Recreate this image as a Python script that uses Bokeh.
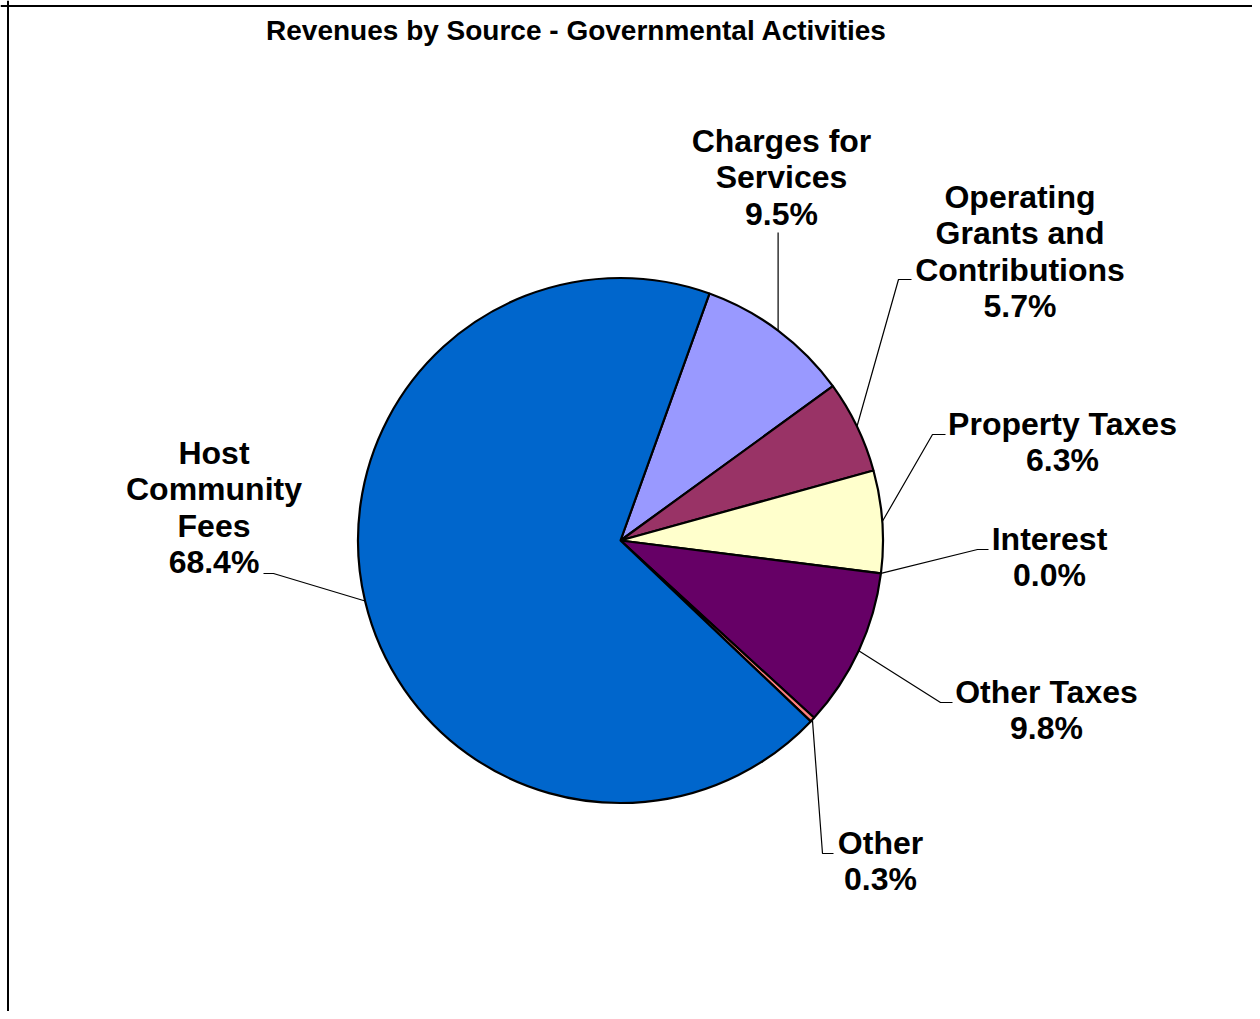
import math
from bokeh.plotting import figure
from bokeh.models import Range1d, Span, ColumnDataSource
from bokeh.core.properties import value
from bokeh.embed import file_html
from bokeh.resources import INLINE

# ---- data ----
categories = ["Charges for\nServices", "Operating\nGrants and\nContributions", "Property Taxes",
              "Interest", "Other Taxes", "Other", "Host\nCommunity\nFees"]
percents = [9.5, 5.7, 6.3, 0.0, 9.8, 0.3, 68.4]
colors = ["#9999FF", "#993366", "#FFFFCC", "#CCFFFF", "#660066", "#FF8080", "#0066CC"]
title_text = "Revenues by Source - Governmental Activities"

# ---- layout (screen pixel coords) ----
W, H = 1252, 1011
def sy(y):  # screen y -> data y
    return H - y

TEXT_DY = -10.5  # correction for rendered baseline
CX, CY, R = 620, 540, 262.5
START = 19.8  # degrees clockwise from 12 o'clock where first slice starts

# label block: centre x, first baseline (screen y)
label_pos = [(781, 151), (1019.5, 207), (1062, 434), (1049, 549), (1046, 702), (880, 853), (213.5, 463)]
# leader: stub end, elbow (screen coords)
leader_pts = [(None, 232), ((911, 279), (898, 279)), ((945, 434), (932, 434)),
              ((988, 549), (977, 549)), ((952, 702), (940, 702)), ((833, 853), (822, 853)),
              ((263, 573), (273, 573))]
LINE_H = 36.3

p = figure(width=W, height=H, output_backend="svg", toolbar_location=None,
           x_range=Range1d(0, W), y_range=Range1d(0, H), min_border=0,
           background_fill_color="white", border_fill_color="white")
p.axis.visible = False
p.grid.visible = False
p.outline_line_color = None

# wedges
total = sum(percents)
cum = START
ws, we, wc, mids = [], [], [], []
for pct, col in zip(percents, colors):
    a0 = cum
    a1 = cum + pct / total * 360.0
    mids.append((a0 + a1) / 2)
    if pct > 0:
        ws.append(math.radians(90 - a0))
        we.append(math.radians(90 - a1))
        wc.append(col)
    cum = a1

src = ColumnDataSource(dict(x=[CX] * len(ws), y=[sy(CY)] * len(ws), s=ws, e=we, c=wc))
p.wedge(x="x", y="y", radius=R, start_angle="s", end_angle="e", direction="clock",
        fill_color="c", line_color="black", line_width=2.2, source=src)

# leader lines
xs, ys = [], []
for mid, lp in zip(mids, leader_pts):
    px = CX + R * math.sin(math.radians(mid))
    py = CY - R * math.cos(math.radians(mid))
    if lp[0] is None:
        xs.append([px, px])
        ys.append([sy(lp[1]), sy(py)])
    else:
        (sx1, sy1), (ex, ey) = lp
        xs.append([sx1, ex, px])
        ys.append([sy(sy1), sy(ey), sy(py)])
p.multi_line(xs=xs, ys=ys, line_color="black", line_width=1.2)

# labels
tx, ty, tt = [], [], []
for cat, pct, (lx, ly) in zip(categories, percents, label_pos):
    lines = cat.split("\n") + [f"{pct:.1f}%"]
    for i, ln in enumerate(lines):
        tx.append(lx)
        ty.append(sy(ly + i * LINE_H + TEXT_DY))
        tt.append(ln)
p.text(x=tx, y=ty, text=tt, text_align="center", text_baseline="alphabetic",
       text_font=value("Liberation Sans"), text_font_style="bold", text_font_size="32px",
       text_color="black")

# title
p.text(x=[576], y=[sy(40 + TEXT_DY)], text=[title_text], text_align="center", text_baseline="alphabetic",
       text_font=value("Liberation Sans"), text_font_style="bold", text_font_size="28px",
       text_color="black")

# chart border (left and top visible)
p.add_layout(Span(location=7.5, dimension="height", line_color="black", line_width=2))
p.add_layout(Span(location=sy(5.5), dimension="width", line_color="black", line_width=2))

open("out.html", "w").write(file_html(p, INLINE))
